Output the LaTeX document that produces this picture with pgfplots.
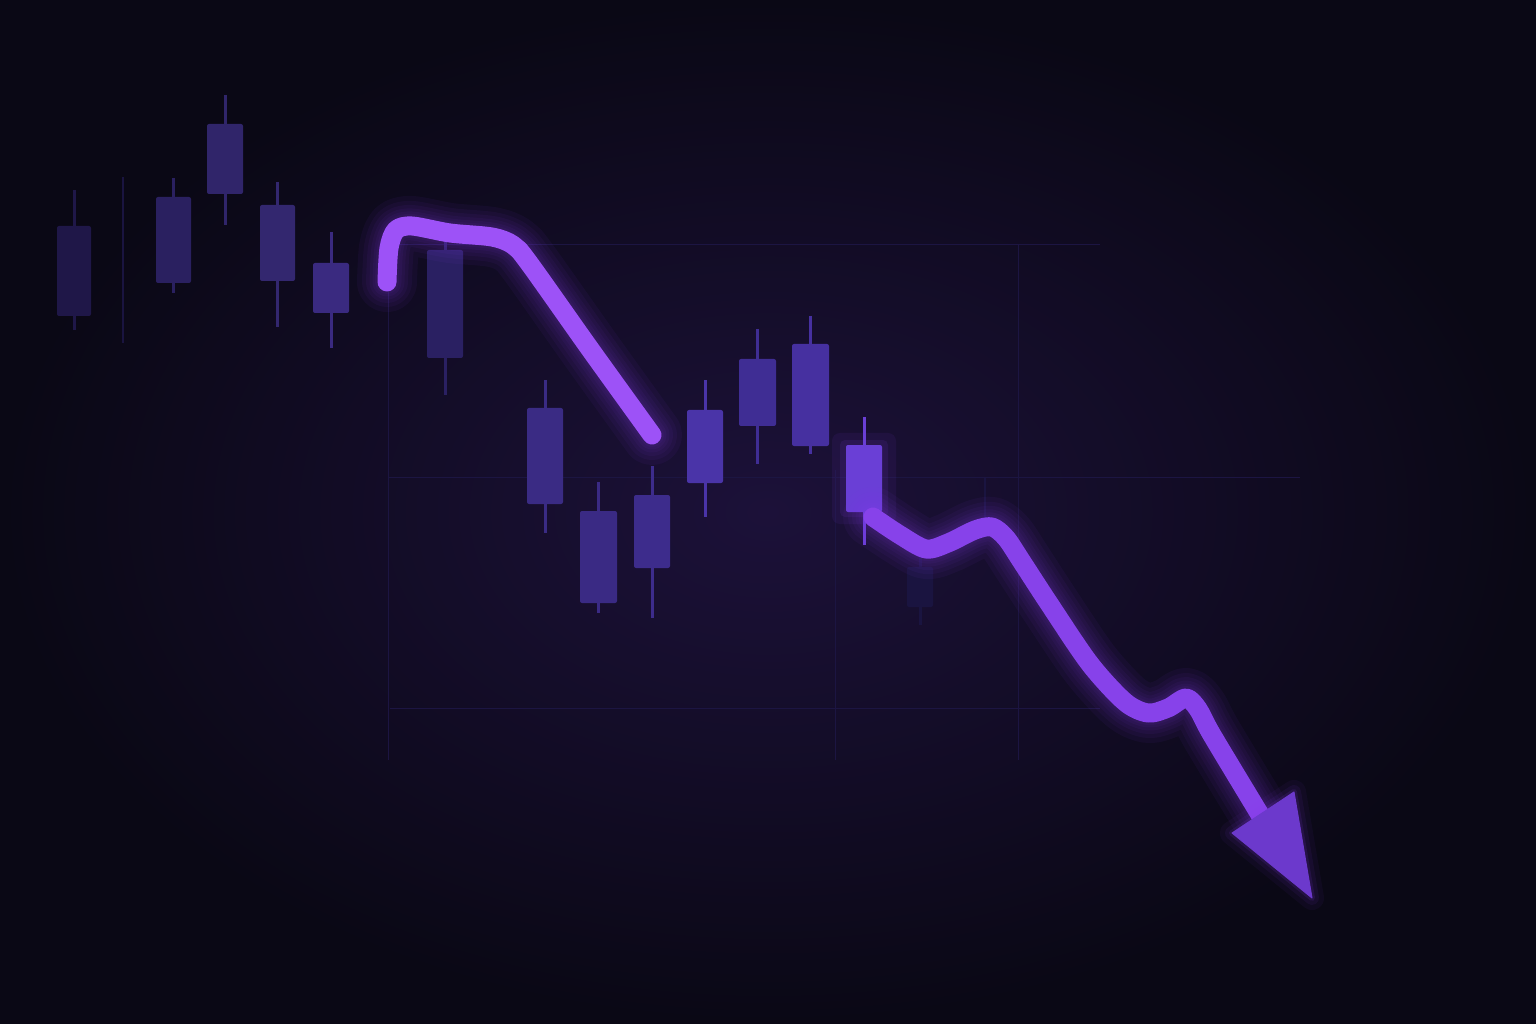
\documentclass[border=0pt]{standalone}
\usepackage{pgfplots}
\pgfplotsset{compat=1.18}
\usepackage{pgfplotstable}
\definecolor{bgin}{HTML}{1C1139}
\definecolor{bgout}{HTML}{0A0815}
\definecolor{gridc}{HTML}{1C1542}
\definecolor{faintc}{HTML}{1A1440}
\definecolor{lineA}{HTML}{9D52F7}
\definecolor{lineB}{HTML}{8742EA}
\definecolor{headc}{HTML}{6C39CC}
\definecolor{glowc}{HTML}{8A3CF0}
\definecolor{cA}{HTML}{1F1748}
\definecolor{cB}{HTML}{2A2060}
\definecolor{cC}{HTML}{30256A}
\definecolor{cD}{HTML}{33276F}
\definecolor{cE}{HTML}{3A2A80}
\definecolor{cF}{HTML}{2A2062}
\definecolor{cG}{HTML}{3A2B84}
\definecolor{cH}{HTML}{3A2A84}
\definecolor{cI}{HTML}{3D2C8C}
\definecolor{cJ}{HTML}{4A34A8}
\definecolor{cK}{HTML}{3F2D94}
\definecolor{cL}{HTML}{4630A0}
\definecolor{cM}{HTML}{6A3FD6}

\pgfplotstableread{
x y
387 282
389 248
396 230
412 226
450 233
492 237
513 245
529 263
590 349
652 435
}\segA

\pgfplotstableread{
x y
873 517
900 535
926 549
948 543
975 530
992 527
1006 538
1022 562
1050 605
1090 664
1125 702
1148 713
1168 708
1186 698
1198 709
1212 735
1262 818
}\segB

\pgfplotstableread{
x y
1232 833
1294 792
1312 898
}\head

% x, left, right, wick top, body top, body bottom, wick bottom, colour
\newcommand{\candle}[8]{%
  \addplot[draw=#8, line width=3pt] coordinates {(#1,#4) (#1,#7)};
  \addplot[fill=#8, draw=none, rounded corners=2pt] coordinates {(#2,#5) (#3,#5) (#3,#6) (#2,#6)} --cycle;
}
\pgfplotsset{
  glow/.style={draw=glowc, opacity=0.055, smooth, tension=0.5, line cap=round, line join=round},
}

\begin{document}
\begin{tikzpicture}
\shade[inner color=bgin, outer color=bgout] (0,0) rectangle (1536pt,1024pt);
\begin{axis}[at={(0,0)}, anchor=south west, scale only axis,
  width=1536pt, height=1024pt,
  xmin=0, xmax=1536, ymin=0, ymax=1024, y dir=reverse,
  axis lines=none, ticks=none, clip=true]

% faint grid
\addplot[draw=gridc, line width=1pt] coordinates {(388,245) (388,760)};
\addplot[draw=gridc, line width=1pt] coordinates {(835,470) (835,760)};
\addplot[draw=gridc, line width=1pt] coordinates {(1018,245) (1018,760)};
\addplot[draw=gridc, line width=1pt] coordinates {(388,245) (1100,245)};
\addplot[draw=gridc, line width=1pt] coordinates {(388,477) (1300,477)};
\addplot[draw=gridc, line width=1pt] coordinates {(390,708) (1100,708)};

% very faint candles
\addplot[draw=faintc, line width=2pt] coordinates {(123,177) (123,343)};
\candle{920}{907}{933}{540}{567}{607}{625}{faintc}
\addplot[draw=faintc, line width=2pt] coordinates {(985,478) (985,530)};

% candles
\candle{74}{57}{91}{190}{226}{316}{330}{cA}
\candle{173}{156}{191}{178}{197}{283}{293}{cB}
\candle{225}{207}{243}{95}{124}{194}{225}{cC}
\candle{277}{260}{295}{182}{205}{281}{327}{cD}
\candle{331}{313}{349}{232}{263}{313}{348}{cE}
\candle{445}{427}{463}{240}{250}{358}{395}{cF}
\candle{545}{527}{563}{380}{408}{504}{533}{cG}
\candle{598}{580}{617}{482}{511}{603}{613}{cH}
\candle{652}{634}{670}{466}{495}{568}{618}{cI}
\candle{705}{687}{723}{380}{410}{483}{517}{cJ}
\candle{757}{739}{776}{329}{359}{426}{464}{cK}
\candle{810}{792}{829}{316}{344}{446}{454}{cL}
% bright candle with glow
\addplot[fill=glowc, draw=none, opacity=0.08, rounded corners=8pt] coordinates {(832,433) (896,433) (896,524) (832,524)} --cycle;
\addplot[fill=glowc, draw=none, opacity=0.10, rounded corners=5pt] coordinates {(840,440) (888,440) (888,517) (840,517)} --cycle;
\candle{864}{846}{882}{417}{445}{512}{545}{cM}

% glowing line, segment A
\addplot[glow, line width=60pt] table {\segA};
\addplot[glow, line width=50pt] table {\segA};
\addplot[glow, line width=42pt] table {\segA};
\addplot[glow, line width=35pt] table {\segA};
\addplot[glow, line width=29pt] table {\segA};
\addplot[glow, line width=24pt] table {\segA};
\addplot[draw=lineA, line width=19pt, smooth, tension=0.5, line cap=round, line join=round] table {\segA};

% segment B
\addplot[glow, line width=60pt] table {\segB};
\addplot[glow, line width=50pt] table {\segB};
\addplot[glow, line width=42pt] table {\segB};
\addplot[glow, line width=35pt] table {\segB};
\addplot[glow, line width=29pt] table {\segB};
\addplot[glow, line width=24pt] table {\segB};
\addplot[draw=lineB, line width=19pt, smooth, tension=0.5, line cap=round, line join=round] table {\segB};

% arrow head
\addplot[draw=glowc, line width=24pt, opacity=0.05, line join=round, fill=none] table {\head} --cycle;
\addplot[draw=glowc, line width=14pt, opacity=0.07, line join=round, fill=none] table {\head} --cycle;
\addplot[draw=glowc, line width=6pt, opacity=0.12, line join=round, fill=none] table {\head} --cycle;
\addplot[draw=headc, fill=headc, line width=1pt, line join=round] table {\head} --cycle;
\end{axis}
\end{tikzpicture}
\end{document}
